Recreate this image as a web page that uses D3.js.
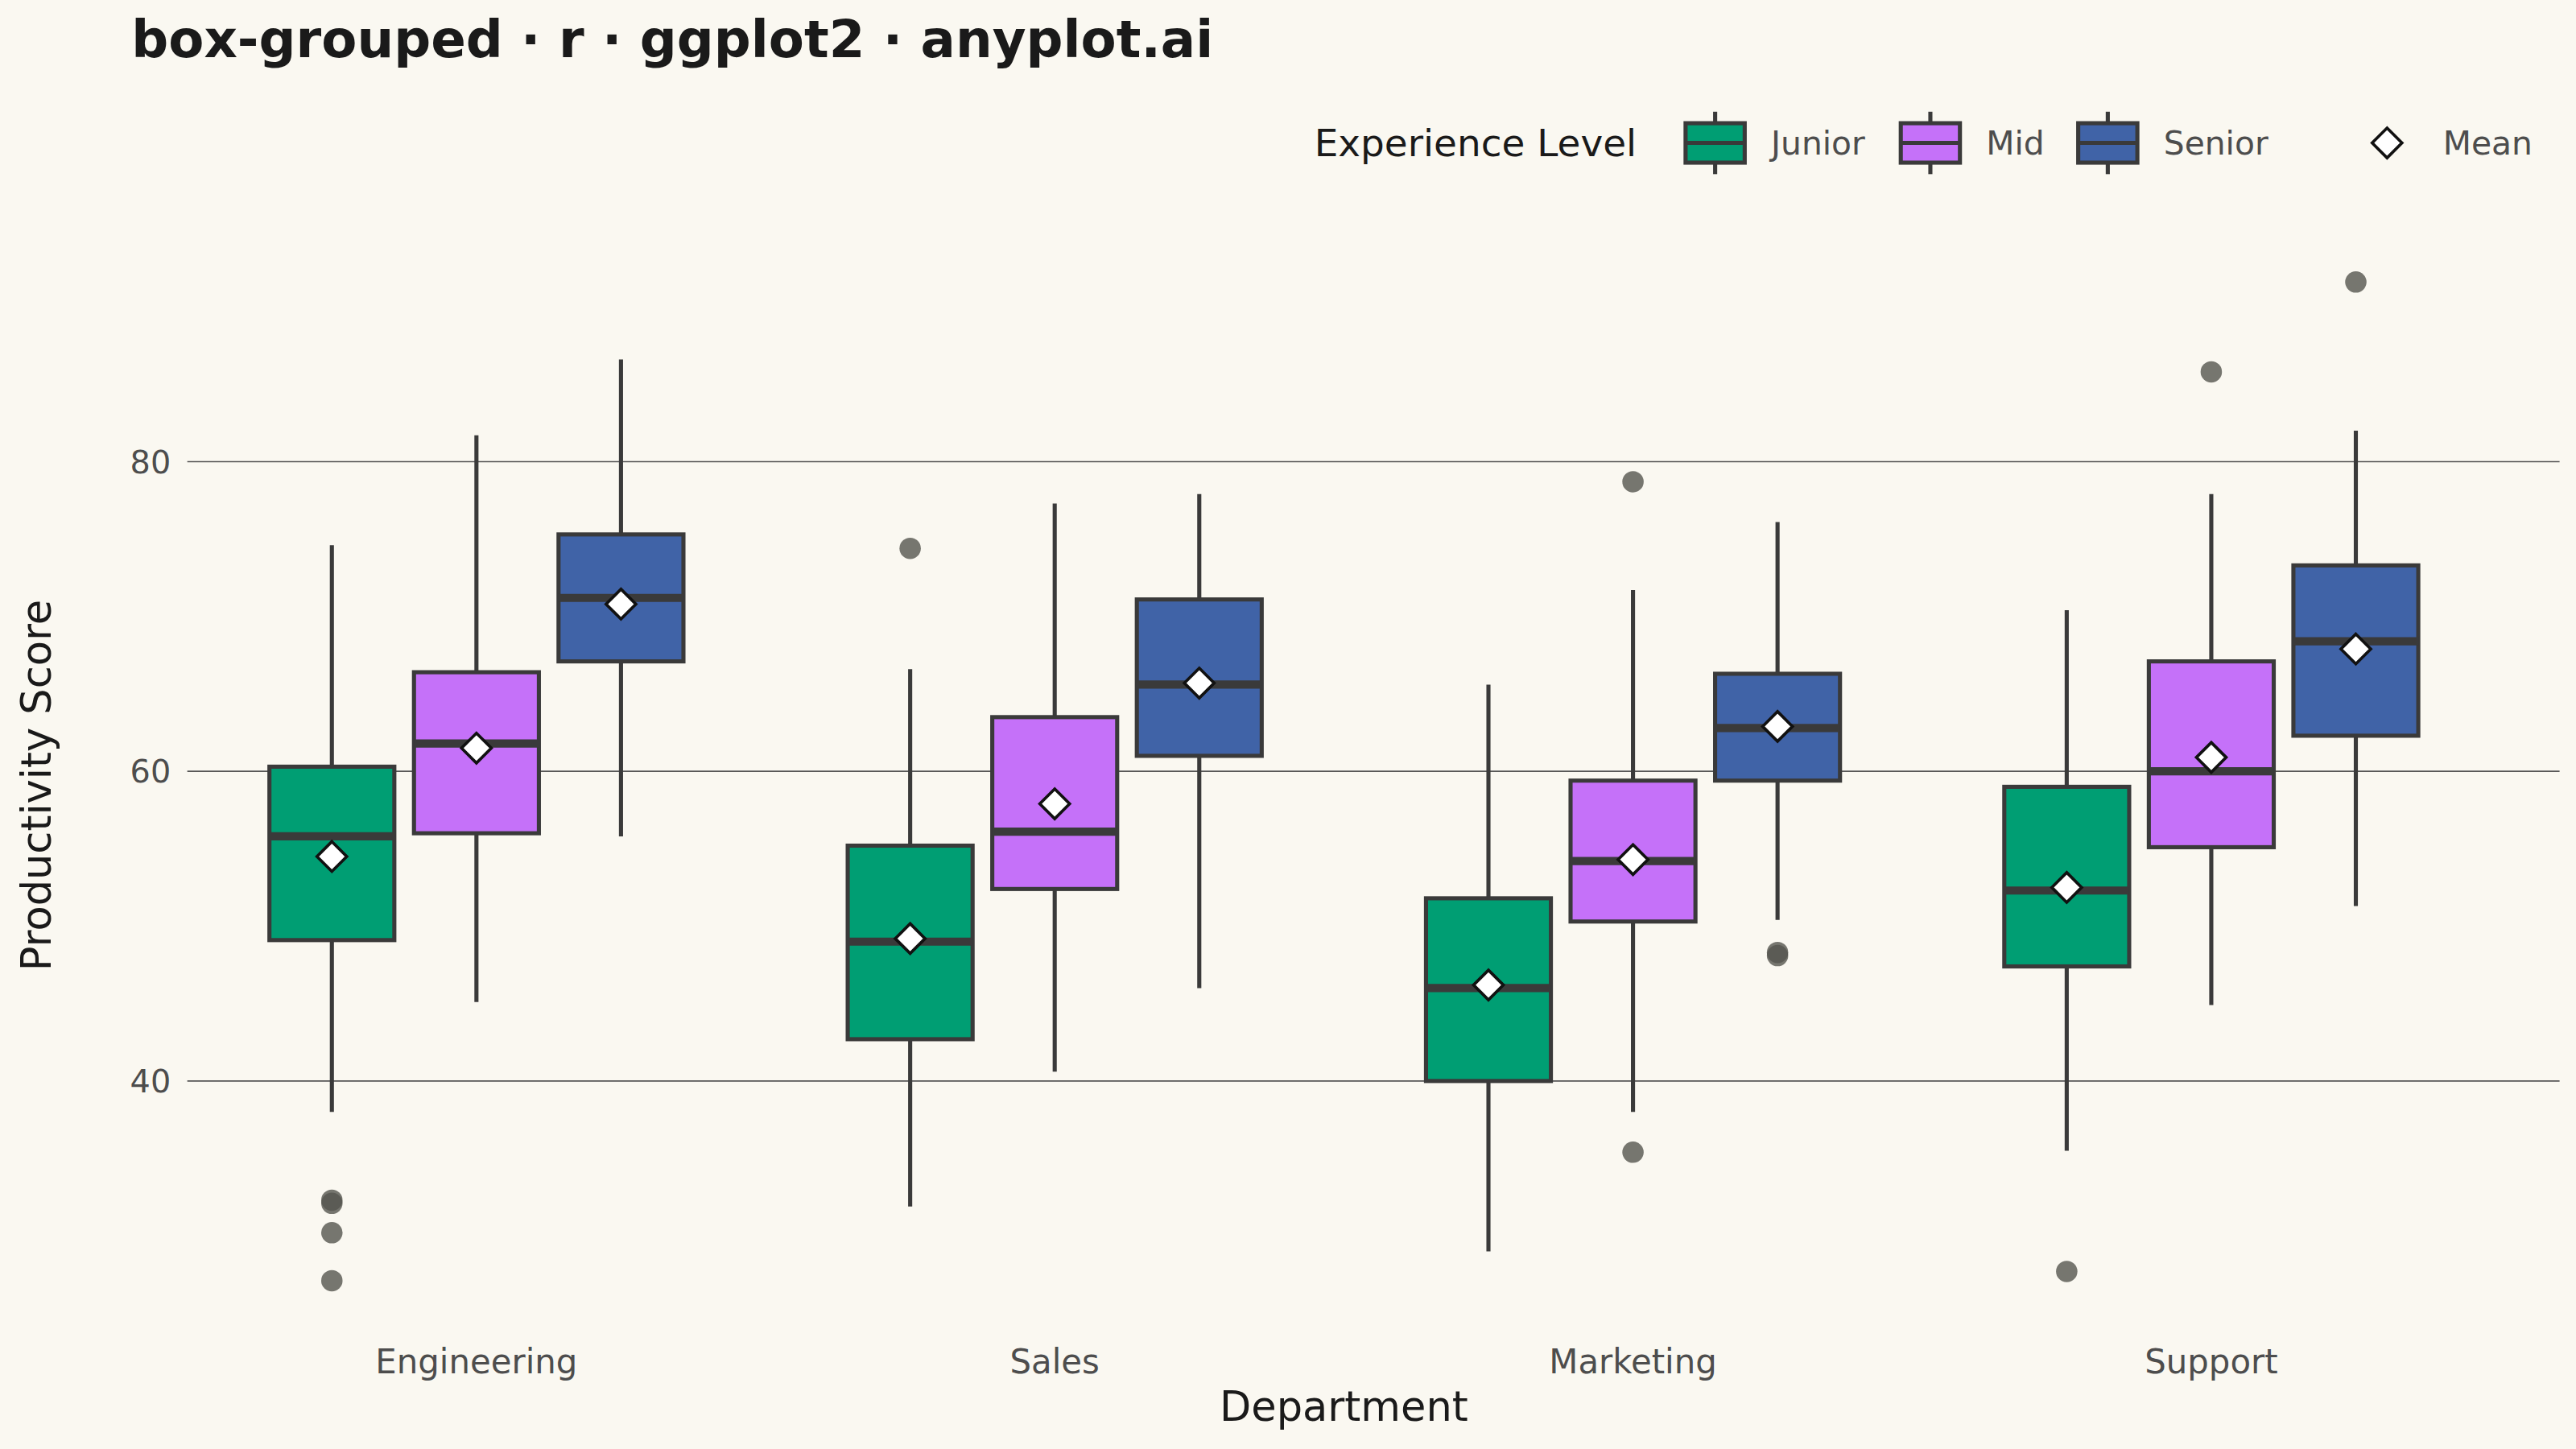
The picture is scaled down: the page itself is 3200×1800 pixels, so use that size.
<!DOCTYPE html>
<html><head><meta charset="utf-8">
<script src="https://cdn.jsdelivr.net/npm/d3@7"></script>
<style>body{margin:0;background:#FAF8F1}text{font-family:"DejaVu Sans",sans-serif}</style>
</head><body>
<script>
var departments = ["Engineering","Sales","Marketing","Support"];
var levels = ["Junior","Mid","Senior"];
var colors = ["#009E73","#C571F9","#4063A7"];
// per department, per level: [whiskerLow, q1, median, q3, whiskerHigh, mean]
var stats = [
  [[38.0,49.1,55.8,60.3,74.6,54.5],[45.1,56.0,61.8,66.4,81.7,61.5],[55.8,67.1,71.2,75.3,86.6,70.8]],
  [[31.9,42.7,49.0,55.2,66.6,49.2],[40.6,52.4,56.1,63.5,77.3,57.9],[46.0,61.0,65.6,71.1,77.9,65.7]],
  [[29.0,40.0,46.0,51.8,65.6,46.2],[38.0,50.3,54.2,59.4,71.7,54.3],[50.4,59.4,62.8,66.3,76.1,62.9]],
  [[35.5,47.4,52.3,59.0,70.4,52.5],[44.9,55.1,60.0,67.1,77.9,60.9],[51.3,62.3,68.4,73.3,82.0,67.9]]
];
var outliers = [
  [[32.3,32.1,30.2,27.1],[],[]],
  [[74.4],[],[]],
  [[],[78.7,35.4],[48.3,48.1]],
  [[27.7],[85.8],[91.6]]
];
var yTicks = [40,60,80];

var W = 1568, H = 882;
var svg = d3.select("body").append("svg").attr("width",3200).attr("height",1800)
  .attr("viewBox","0 0 "+W+" "+H);
svg.append("rect").attr("width",W).attr("height",H).attr("fill","#FAF8F1");

var x = d3.scaleBand().domain(departments).range([114,1522]).padding(0);
var xs = d3.scaleBand().domain(levels).range([-126,126]).paddingInner(0.136);
var y = d3.scaleLinear().domain([40,80]).range([658,281]);
function cxOf(d){ return x(d)+x.bandwidth()/2; }

svg.selectAll(".grid").data(yTicks).enter().append("line")
  .attr("x1",114).attr("x2",1558).attr("y1",y).attr("y2",y)
  .attr("stroke","#555").attr("stroke-width",0.8);
svg.selectAll(".yt").data(yTicks).enter().append("text")
  .attr("x",104).attr("y",function(d){return y(d)+7;}).attr("text-anchor","end")
  .attr("font-size",19.5).attr("fill","#4d4d4d").text(function(d){return d;});
svg.selectAll(".xt").data(departments).enter().append("text")
  .attr("x",cxOf).attr("y",836).attr("text-anchor","middle")
  .attr("font-size",20.5).attr("fill","#4d4d4d").text(function(d){return d;});

departments.forEach(function(dep,i){
  levels.forEach(function(lv,j){
    var s = stats[i][j];
    var cx = cxOf(dep)+xs(lv)+xs.bandwidth()/2;
    var bw = xs.bandwidth();
    var g = svg.append("g");
    g.append("line").attr("x1",cx).attr("x2",cx).attr("y1",y(s[0])).attr("y2",y(s[4]))
      .attr("stroke","#3a3a3a").attr("stroke-width",2.5);
    g.append("rect").attr("x",cx-bw/2).attr("width",bw).attr("y",y(s[3])).attr("height",y(s[1])-y(s[3]))
      .attr("fill",colors[j]).attr("stroke","#3a3a3a").attr("stroke-width",2.5);
    g.append("line").attr("x1",cx-bw/2).attr("x2",cx+bw/2).attr("y1",y(s[2])).attr("y2",y(s[2]))
      .attr("stroke","#3a3a3a").attr("stroke-width",5);
    g.selectAll("circle").data(outliers[i][j]).enter().append("circle")
      .attr("cx",cx).attr("cy",y).attr("r",6.5).attr("fill","#55554f").attr("fill-opacity",0.8);
    g.append("path").attr("d",d3.symbol(d3.symbolDiamond2,210)())
      .attr("transform","translate("+cx+","+y(s[5])+")")
      .attr("fill","white").attr("stroke","#111").attr("stroke-width",1.8);
  });
});

svg.append("text").attr("x",80).attr("y",35).attr("font-size",31.5).attr("font-weight","bold")
  .attr("fill","#1a1a1a").text("box-grouped · r · ggplot2 · anyplot.ai");
svg.append("text").attr("x",818).attr("y",865).attr("text-anchor","middle").attr("font-size",25)
  .attr("fill","#1a1a1a").text("Department");
svg.append("text").attr("transform","translate(31,478) rotate(-90)").attr("text-anchor","middle")
  .attr("font-size",25).attr("fill","#1a1a1a").text("Productivity Score");

// legend
svg.append("text").attr("x",800).attr("y",95).attr("font-size",23).attr("fill","#1a1a1a").text("Experience Level");
var lx = [1026,1157,1265];
levels.forEach(function(lv,j){
  var g = svg.append("g").attr("transform","translate("+lx[j]+",0)");
  g.append("line").attr("x1",18).attr("x2",18).attr("y1",68).attr("y2",106).attr("stroke","#3a3a3a").attr("stroke-width",2.5);
  g.append("rect").attr("x",0).attr("y",75).attr("width",36).attr("height",24)
    .attr("fill",colors[j]).attr("stroke","#3a3a3a").attr("stroke-width",2.5);
  g.append("line").attr("x1",0).attr("x2",36).attr("y1",87).attr("y2",87).attr("stroke","#3a3a3a").attr("stroke-width",2.5);
  g.append("text").attr("x",52).attr("y",94).attr("font-size",20).attr("fill","#4d4d4d").text(lv);
});
svg.append("path").attr("d",d3.symbol(d3.symbolDiamond2,210)())
  .attr("transform","translate(1453,87)").attr("fill","white").attr("stroke","#111").attr("stroke-width",1.8);
svg.append("text").attr("x",1487).attr("y",94).attr("font-size",20).attr("fill","#4d4d4d").text("Mean");
</script>
</body></html>
